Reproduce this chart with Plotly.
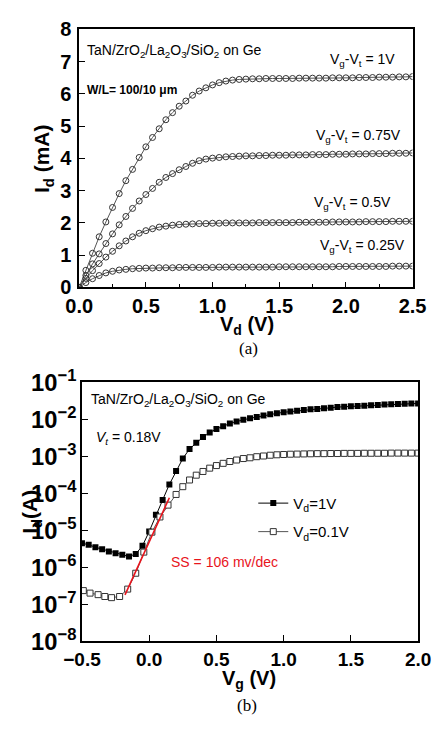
import plotly.graph_objects as go

W, H = 446, 730

# ---------------- (a) output characteristics ----------------
vd = [0.00, 0.05, 0.10, 0.15, 0.20, 0.25, 0.30, 0.35, 0.40, 0.45,
      0.50, 0.55, 0.60, 0.65, 0.70, 0.75, 0.80, 0.85, 0.90, 0.95,
      1.00, 1.05, 1.10, 1.15, 1.20, 1.25, 1.30, 1.35, 1.40, 1.45,
      1.50, 1.55, 1.60, 1.65, 1.70, 1.75, 1.80, 1.85, 1.90, 1.95,
      2.00, 2.05, 2.10, 2.15, 2.20, 2.25, 2.30, 2.35, 2.40, 2.45,
      2.50]
id_1v = [0.00, 0.53, 1.06, 1.57, 2.03, 2.48, 2.91, 3.31, 3.66, 4.03,
         4.36, 4.65, 4.92, 5.20, 5.42, 5.62, 5.78, 5.96, 6.09, 6.19,
         6.28, 6.35, 6.40, 6.43, 6.45, 6.46, 6.47, 6.47, 6.48, 6.48,
         6.48, 6.48, 6.48, 6.49, 6.49, 6.49, 6.49, 6.49, 6.50, 6.50,
         6.50, 6.50, 6.51, 6.51, 6.51, 6.52, 6.52, 6.52, 6.53, 6.53,
         6.54]
id_075v = [0.00, 0.37, 0.73, 1.04, 1.36, 1.66, 1.94, 2.20, 2.45, 2.68,
           2.88, 3.07, 3.26, 3.41, 3.53, 3.65, 3.75, 3.85, 3.93, 3.98,
           4.01, 4.03, 4.05, 4.06, 4.07, 4.08, 4.08, 4.09, 4.09, 4.10,
           4.10, 4.10, 4.11, 4.11, 4.11, 4.12, 4.12, 4.12, 4.13, 4.13,
           4.13, 4.14, 4.14, 4.14, 4.15, 4.15, 4.15, 4.16, 4.16, 4.16,
           4.17]
id_05v = [0.00, 0.28, 0.52, 0.74, 0.94, 1.12, 1.29, 1.44, 1.57, 1.68,
          1.76, 1.82, 1.87, 1.90, 1.93, 1.95, 1.96, 1.97, 1.98, 1.98,
          1.99, 1.99, 2.00, 2.00, 2.00, 2.00, 2.00, 2.01, 2.01, 2.01,
          2.01, 2.01, 2.01, 2.02, 2.02, 2.02, 2.02, 2.02, 2.03, 2.03,
          2.03, 2.03, 2.03, 2.04, 2.04, 2.04, 2.04, 2.05, 2.05, 2.05,
          2.05]
id_025v = [0.00, 0.15, 0.27, 0.37, 0.45, 0.50, 0.54, 0.56, 0.58, 0.59,
           0.60, 0.60, 0.61, 0.61, 0.61, 0.62, 0.62, 0.62, 0.62, 0.62,
           0.62, 0.63, 0.63, 0.63, 0.63, 0.63, 0.63, 0.63, 0.63, 0.63,
           0.64, 0.64, 0.64, 0.64, 0.64, 0.64, 0.64, 0.64, 0.64, 0.65,
           0.65, 0.65, 0.65, 0.65, 0.65, 0.65, 0.65, 0.66, 0.66, 0.66,
           0.66]
curve_labels = ["V<sub>g</sub>-V<sub>t</sub> = 1V", "V<sub>g</sub>-V<sub>t</sub> = 0.75V",
                "V<sub>g</sub>-V<sub>t</sub> = 0.5V", "V<sub>g</sub>-V<sub>t</sub> = 0.25V"]

# ---------------- (b) transfer characteristics ----------------
vg = [-0.50, -0.45, -0.40, -0.35, -0.30, -0.25, -0.20, -0.15, -0.10, -0.05,
      0.00, 0.05, 0.10, 0.15, 0.20, 0.25, 0.30, 0.35, 0.40, 0.45,
      0.50, 0.55, 0.60, 0.65, 0.70, 0.75, 0.80, 0.85, 0.90, 0.95,
      1.00, 1.05, 1.10, 1.15, 1.20, 1.25, 1.30, 1.35, 1.40, 1.45,
      1.50, 1.55, 1.60, 1.65, 1.70, 1.75, 1.80, 1.85, 1.90, 1.95,
      2.00]
id_vd1 = [4.47e-6, 4.07e-6, 3.47e-6, 3.09e-6, 2.69e-6, 2.40e-6, 2.19e-6, 1.95e-6, 2.29e-6, 3.80e-6,
          9.3e-6, 2.63e-5, 6.6e-5, 1.74e-4, 3.98e-4, 8.7e-4, 1.58e-3, 2.34e-3, 3.31e-3, 4.37e-3,
          5.50e-3, 6.46e-3, 7.76e-3, 8.71e-3, 9.77e-3, 1.07e-2, 1.15e-2, 1.26e-2, 1.38e-2, 1.45e-2,
          1.55e-2, 1.62e-2, 1.70e-2, 1.78e-2, 1.86e-2, 1.91e-2, 2.00e-2, 2.04e-2, 2.14e-2, 2.19e-2,
          2.24e-2, 2.29e-2, 2.34e-2, 2.40e-2, 2.45e-2, 2.51e-2, 2.57e-2, 2.60e-2, 2.63e-2, 2.66e-2,
          2.69e-2]
vg_low = [-0.49, -0.44, -0.38, -0.33, -0.28, -0.22, -0.16, -0.10, -0.04, 0.02, 0.08, 0.14,
          0.20, 0.25, 0.30, 0.35, 0.40, 0.45, 0.50, 0.55, 0.60, 0.65,
          0.70, 0.75, 0.80, 0.85, 0.90, 0.95, 1.00, 1.05, 1.10, 1.15,
          1.20, 1.25, 1.30, 1.35, 1.40, 1.45, 1.50, 1.55, 1.60, 1.65,
          1.70, 1.75, 1.80, 1.85, 1.90, 1.95, 2.00]
id_vd01 = [2.34e-7, 2.00e-7, 1.82e-7, 1.62e-7, 1.51e-7, 1.62e-7, 2.57e-7, 6.9e-7, 2.57e-6, 8.9e-6, 2.29e-5, 4.79e-5,
           9.3e-5, 1.51e-4, 2.29e-4, 3.09e-4, 3.89e-4, 4.79e-4, 5.62e-4, 6.46e-4, 7.24e-4, 7.94e-4,
           8.71e-4, 9.12e-4, 9.77e-4, 1.02e-3, 1.07e-3, 1.10e-3, 1.12e-3, 1.14e-3, 1.15e-3, 1.16e-3,
           1.17e-3, 1.18e-3, 1.18e-3, 1.19e-3, 1.19e-3, 1.20e-3, 1.20e-3, 1.20e-3, 1.21e-3, 1.21e-3,
           1.21e-3, 1.21e-3, 1.22e-3, 1.22e-3, 1.22e-3, 1.22e-3, 1.22e-3]
ss_fit_vg = [-0.18, 0.15]
ss_fit_id = [1.8e-7, 7.6e-5]
legend_names = ["V<sub>d</sub>=1V", "V<sub>d</sub>=0.1V"]

# ---------------- helpers ----------------
def px(x):
    return x / W

def py(y):
    return 1 - y / H

SANS = "Liberation Sans"
SERIF = "Liberation Serif"

fig = go.Figure()

for ys in [id_1v, id_075v, id_05v, id_025v]:
    fig.add_trace(go.Scatter(
        x=vd, y=ys, mode="lines+markers", xaxis="x", yaxis="y",
        line=dict(color="#555555", width=1),
        marker=dict(symbol="circle-open", size=6, color="#333333", line=dict(width=1)),
        showlegend=False, hoverinfo="skip"))

fig.add_trace(go.Scatter(
    x=vg, y=id_vd1, mode="lines+markers", xaxis="x2", yaxis="y2",
    name=legend_names[0], legendgroup="a",
    line=dict(color="black", width=1),
    marker=dict(symbol="square", size=6, color="black")))
fig.add_trace(go.Scatter(
    x=vg_low, y=id_vd01, mode="lines+markers", xaxis="x2", yaxis="y2",
    name=legend_names[1], legendgroup="b",
    line=dict(color="#555555", width=1),
    marker=dict(symbol="square", size=6, color="white", line=dict(color="#333333", width=1))))
fig.add_trace(go.Scatter(
    x=ss_fit_vg, y=ss_fit_id, mode="lines", xaxis="x2", yaxis="y2",
    line=dict(color="#e8141c", width=1.6), showlegend=False))

tickfont = dict(family=SANS, size=20, color="black", weight="bold")
axis_common = dict(showline=True, mirror=True, linecolor="black", linewidth=1.5,
                   showgrid=False, zeroline=False, ticks="inside", ticklen=6,
                   tickwidth=1.3, tickcolor="black")

fig.update_layout(
    width=W, height=H, margin=dict(l=0, r=0, t=0, b=0),
    paper_bgcolor="white", plot_bgcolor="white",
    xaxis=dict(domain=[px(65), px(425)], range=[0, 2.5], dtick=0.5, tickformat=".1f",
               anchor="y", tickfont=tickfont,
               minor=dict(dtick=0.25, ticks="inside", ticklen=4, tickwidth=1, tickcolor="black"),
               **axis_common),
    yaxis=dict(domain=[py(282), py(13)], range=[0, 8], dtick=1, anchor="x",
               tickfont=tickfont, ticklabelstandoff=2, **axis_common),
    xaxis2=dict(domain=[px(68), px(431)], range=[-0.5, 2.0], dtick=0.5, tickformat=".1f",
                anchor="y2", tickfont=dict(tickfont, size=19), **axis_common),
    yaxis2=dict(domain=[py(651), py(381)], type="log", range=[-8, -1], dtick=1,
                exponentformat="power", showexponent="all", anchor="x2",
                tickfont=dict(tickfont, size=19), **axis_common),
    legend=dict(x=px(253), y=py(490), xanchor="left", yanchor="top",
                bgcolor="rgba(0,0,0,0)", font=dict(family=SANS, size=15, color="black"),
                tracegroupgap=6, traceorder="grouped"),
)

ann = []
def add(text, x, y, xanchor="left", size=14, color="black", family=SANS, weight="normal", angle=0):
    ann.append(dict(text=text, x=px(x), y=py(y), xref="paper", yref="paper",
                    xanchor=xanchor, yanchor="middle", showarrow=False, textangle=angle,
                    font=dict(family=family, size=size, color=color, weight=weight)))

stack = "TaN/ZrO<sub>2</sub>/La<sub>2</sub>O<sub>3</sub>/SiO<sub>2</sub> on Ge"
# (a)
add(stack, 71, 35, size=14)
add("W/L= 100/10 \u03bcm", 71, 76, size=12, weight="bold")
add(curve_labels[0], 408, 45, xanchor="right", size=14)
add(curve_labels[1], 415, 124, xanchor="right", size=14)
add(curve_labels[2], 404, 194, xanchor="right", size=14)
add(curve_labels[3], 419, 239, xanchor="right", size=14)
add("I<sub>d</sub> (mA)", 26, 148, xanchor="center", size=21, weight="bold", angle=-90)
add("V<sub>d</sub> (V)", 246, 322, xanchor="center", size=20, weight="bold")
add("(a)", 248, 346, xanchor="center", size=17, family=SERIF)
# (b)
add(stack, 76, 399, size=14)
add("<i>V</i><sub><i>t</i></sub> = 0.18V", 81, 439, size=14)
add("SS = 106 mv/dec", 162, 568, size=14, color="#e8141c")
add("I<sub>d</sub>(A)", 13, 516, xanchor="center", size=21, weight="bold", angle=-90)
add("V<sub>g</sub> (V)", 248, 691, xanchor="center", size=20, weight="bold")
add("(b)", 246, 718, xanchor="center", size=17, family=SERIF)

fig.update_layout(annotations=ann)
fig.write_html("out.html")
